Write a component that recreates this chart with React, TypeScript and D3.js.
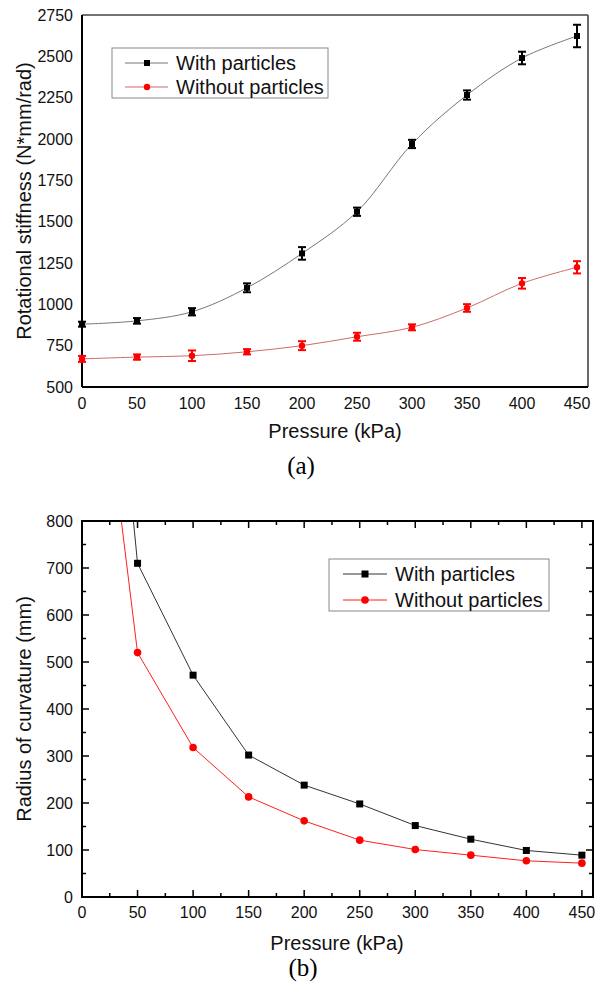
import React from "react";
import * as d3 from "d3";

const pressures = [0, 50, 100, 150, 200, 250, 300, 350, 400, 450];
const stiffWith = [880, 900, 955, 1100, 1308, 1560, 1970, 2266, 2490, 2623];
const stiffWithErr = [15, 17, 22, 27, 38, 25, 25, 28, 38, 68];
const stiffWithout = [670, 681, 689, 713, 750, 804, 861, 978, 1127, 1224];
const stiffWithoutErr = [18, 16, 32, 16, 27, 24, 18, 23, 32, 37];
const stiffTicks = [500, 750, 1000, 1250, 1500, 1750, 2000, 2250, 2500, 2750];

const radiusWith = [1925, 710, 472, 302, 238, 198, 152, 123, 99, 89];
const radiusWithout = [1480, 520, 318, 213, 162, 121, 101, 89, 77, 72];
const radiusTicks = [0, 100, 200, 300, 400, 500, 600, 700, 800];
const xTicks = [0, 50, 100, 150, 200, 250, 300, 350, 400, 450];

const seriesNames = ["With particles", "Without particles"];

const SANS = "'Liberation Sans', Arial, sans-serif";
const SERIF = "'Liberation Serif', 'Times New Roman', serif";

function TopChart() {
  const x = d3.scaleLinear().domain([0, 460]).range([82, 588]);
  const y = d3.scaleLinear().domain([500, 2750]).range([387, 15]);
  const line = d3
    .line<number>()
    .x((_, i) => x(pressures[i]))
    .y((d) => y(d))
    .curve(d3.curveCatmullRom.alpha(0.5));
  const capW = 4;
  const errBars = (vals: number[], errs: number[], color: string) =>
    vals.map((v, i) => {
      const cx = x(pressures[i]);
      const y1 = y(v + errs[i]);
      const y2 = y(v - errs[i]);
      return (
        <g key={i} stroke={color} strokeWidth={2}>
          <line x1={cx} x2={cx} y1={y1} y2={y2} />
          <line x1={cx - capW} x2={cx + capW} y1={y1} y2={y1} />
          <line x1={cx - capW} x2={cx + capW} y1={y2} y2={y2} />
        </g>
      );
    });
  return (
    <g>
      {/* frame */}
      <line x1={82} x2={588} y1={15} y2={15} stroke="#444" strokeWidth={1.6} />
      <line x1={588} x2={588} y1={15} y2={387} stroke="#444" strokeWidth={1.6} />
      <line x1={82} x2={82} y1={15} y2={387} stroke="#000" strokeWidth={2} />
      <line x1={82} x2={588} y1={387} y2={387} stroke="#000" strokeWidth={2} />
      {/* lines */}
      <path d={line(stiffWith) || ""} fill="none" stroke="#777" strokeWidth={1} />
      <path d={line(stiffWithout) || ""} fill="none" stroke="#cf6a6a" strokeWidth={1} />
      {errBars(stiffWith, stiffWithErr, "#000")}
      {errBars(stiffWithout, stiffWithoutErr, "#ff0000")}
      {stiffWith.map((v, i) => (
        <rect key={i} x={x(pressures[i]) - 3} y={y(v) - 3} width={6} height={6} fill="#000" />
      ))}
      {stiffWithout.map((v, i) => (
        <circle key={i} cx={x(pressures[i])} cy={y(v)} r={3.2} fill="#ff0000" />
      ))}
      {/* tick labels */}
      {stiffTicks.map((t) => (
        <text key={t} x={73} y={y(t)} dy="0.35em" textAnchor="end" fontSize={16} fontFamily={SANS} fill="#111">
          {t}
        </text>
      ))}
      {xTicks.map((t) => (
        <text key={t} x={x(t)} y={409} textAnchor="middle" fontSize={16} fontFamily={SANS} fill="#111">
          {t}
        </text>
      ))}
      <text x={335} y={438} textAnchor="middle" fontSize={20} fontFamily={SANS} fill="#111">
        Pressure (kPa)
      </text>
      <text
        transform={`translate(31,201) rotate(-90)`}
        textAnchor="middle"
        fontSize={20}
        fontFamily={SANS}
        fill="#111"
      >
        Rotational stiffness (N*mm/rad)
      </text>
      {/* legend */}
      <rect x={112} y={48} width={216} height={50} fill="#fff" stroke="#888" strokeWidth={1} />
      <line x1={125} x2={168} y1={63} y2={63} stroke="#777" strokeWidth={1} />
      <rect x={144} y={60} width={6} height={6} fill="#000" />
      <text x={176} y={63} dy="0.35em" fontSize={20} fontFamily={SANS} fill="#111">
        {seriesNames[0]}
      </text>
      <line x1={125} x2={168} y1={87} y2={87} stroke="#cf6a6a" strokeWidth={1} />
      <circle cx={147} cy={87} r={3.2} fill="#ff0000" />
      <text x={176} y={87} dy="0.35em" fontSize={20} fontFamily={SANS} fill="#111">
        {seriesNames[1]}
      </text>
      <text x={301} y={474} textAnchor="middle" fontSize={25} fontFamily={SERIF} fill="#000">
        (a)
      </text>
    </g>
  );
}

function BottomChart() {
  const L = 82, R = 593, T = 521, B = 897;
  const x = d3.scaleLinear().domain([0, 460]).range([L, R]);
  const y = d3.scaleLinear().domain([0, 800]).range([B, T]);
  const line = d3
    .line<number>()
    .x((_, i) => x(pressures[i]))
    .y((d) => y(d));
  const minorX = d3.range(25, 460, 50);
  const minorY = d3.range(50, 800, 100);
  return (
    <g>
      <defs>
        <clipPath id="clipB">
          <rect x={L} y={T} width={R - L} height={B - T} />
        </clipPath>
      </defs>
      <g clipPath="url(#clipB)">
        <path d={line(radiusWith) || ""} fill="none" stroke="#333" strokeWidth={1} />
        <path d={line(radiusWithout) || ""} fill="none" stroke="#ff2020" strokeWidth={1} />
        {radiusWith.map((v, i) => (
          <rect key={i} x={x(pressures[i]) - 3.5} y={y(v) - 3.5} width={7} height={7} fill="#000" />
        ))}
        {radiusWithout.map((v, i) => (
          <circle key={i} cx={x(pressures[i])} cy={y(v)} r={3.8} fill="#ff0000" />
        ))}
      </g>
      {/* frame */}
      <rect x={L} y={T} width={R - L} height={B - T} fill="none" stroke="#000" strokeWidth={2} />
      {/* ticks */}
      {xTicks.map((t) => (
        <g key={t} stroke="#000" strokeWidth={1.5}>
          <line x1={x(t)} x2={x(t)} y1={B} y2={B - 7} />
          <line x1={x(t)} x2={x(t)} y1={T} y2={T + 7} />
        </g>
      ))}
      {minorX.map((t) => (
        <g key={t} stroke="#000" strokeWidth={1.5}>
          <line x1={x(t)} x2={x(t)} y1={B} y2={B - 4} />
          <line x1={x(t)} x2={x(t)} y1={T} y2={T + 4} />
        </g>
      ))}
      {radiusTicks.map((t) => (
        <g key={t} stroke="#000" strokeWidth={1.5}>
          <line x1={L} x2={L + 7} y1={y(t)} y2={y(t)} />
          <line x1={R} x2={R - 7} y1={y(t)} y2={y(t)} />
        </g>
      ))}
      {minorY.map((t) => (
        <g key={t} stroke="#000" strokeWidth={1.5}>
          <line x1={L} x2={L + 4} y1={y(t)} y2={y(t)} />
          <line x1={R} x2={R - 4} y1={y(t)} y2={y(t)} />
        </g>
      ))}
      {radiusTicks.map((t) => (
        <text key={t} x={73} y={y(t)} dy="0.35em" textAnchor="end" fontSize={16} fontFamily={SANS} fill="#111">
          {t}
        </text>
      ))}
      {xTicks.map((t) => (
        <text key={t} x={x(t)} y={918} textAnchor="middle" fontSize={16} fontFamily={SANS} fill="#111">
          {t}
        </text>
      ))}
      <text x={337} y={950} textAnchor="middle" fontSize={20} fontFamily={SANS} fill="#111">
        Pressure (kPa)
      </text>
      <text
        transform={`translate(31,709) rotate(-90)`}
        textAnchor="middle"
        fontSize={20}
        fontFamily={SANS}
        fill="#111"
      >
        Radius of curvature (mm)
      </text>
      {/* legend */}
      <rect x={329} y={559} width={220} height={52} fill="#fff" stroke="#888" strokeWidth={1} />
      <line x1={343} x2={387} y1={574} y2={574} stroke="#333" strokeWidth={1} />
      <rect x={361.5} y={570.5} width={7} height={7} fill="#000" />
      <text x={395} y={574} dy="0.35em" fontSize={20} fontFamily={SANS} fill="#111">
        {seriesNames[0]}
      </text>
      <line x1={343} x2={387} y1={600} y2={600} stroke="#ff2020" strokeWidth={1} />
      <circle cx={365} cy={600} r={3.8} fill="#ff0000" />
      <text x={395} y={600} dy="0.35em" fontSize={20} fontFamily={SANS} fill="#111">
        {seriesNames[1]}
      </text>
      <text x={303} y={976} textAnchor="middle" fontSize={25} fontFamily={SERIF} fill="#000">
        (b)
      </text>
    </g>
  );
}

export default function App() {
  return (
    <svg
      width={603}
      height={991}
      style={{ position: "absolute", left: 0, top: 0, background: "#fff", display: "block" }}
    >
      <rect x={0} y={0} width={603} height={991} fill="#fff" />
      <TopChart />
      <BottomChart />
    </svg>
  );
}
